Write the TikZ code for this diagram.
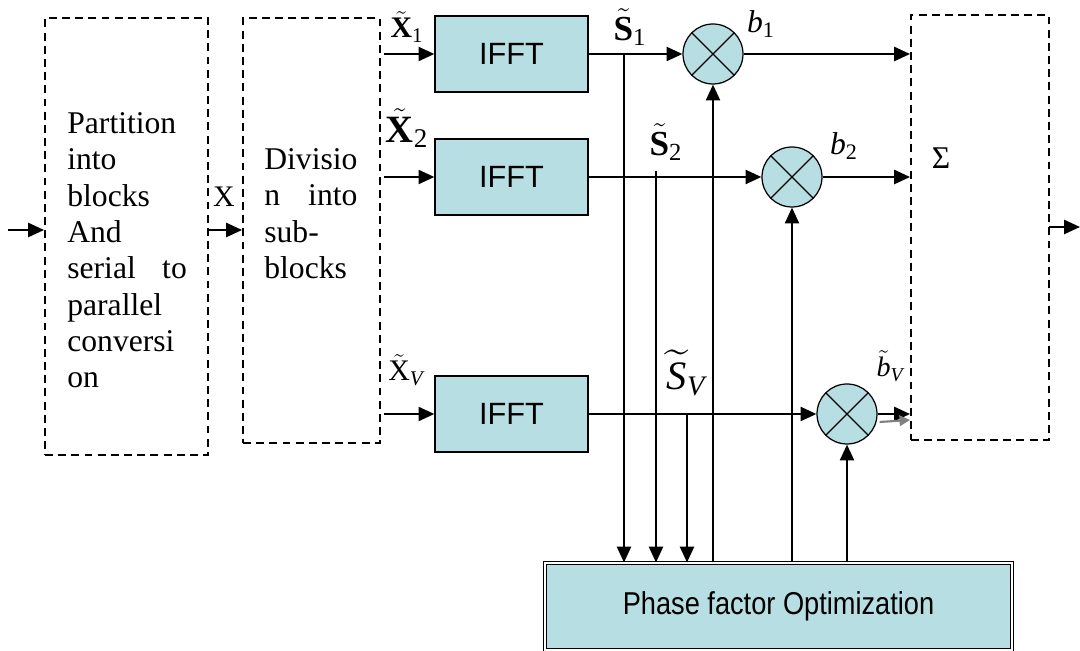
\documentclass[tikz,border=0pt]{standalone}
\usepackage{fontspec}
\setmainfont{Liberation Serif}
\setsansfont{Liberation Sans}
\usepackage{amsmath}
\usepackage{graphicx}
\usetikzlibrary{arrows.meta,calc}
\definecolor{blockfill}{RGB}{183,222,226}
\tikzset{
  dashbox/.style={draw, dash pattern=on 4.5pt off 3pt, line width=1.1pt, inner sep=0pt},
  ifftbox/.style={draw, fill=blockfill, line width=0.8pt, minimum width=3.06cm, minimum height=1.52cm,
    font=\sffamily\fontsize{17.5}{20}\selectfont},
  mult/.style={circle, draw, fill=blockfill, minimum size=1.2cm, inner sep=0pt, line width=0.7pt,
    path picture={\draw[line width=0.7pt] (path picture bounding box.south west) -- (path picture bounding box.north east)
      (path picture bounding box.north west) -- (path picture bounding box.south east);}},
  sig/.style={-{Triangle[length=9pt,width=8pt]}, line width=1.2pt},
  lbl/.style={inner sep=0pt},
  blocktxt/.style={anchor=north west, inner sep=0pt, align=left, font=\fontsize{18}{20.7}\selectfont},
}
\begin{document}
\begin{tikzpicture}[x=0.02cm, y=-0.02cm]
  \useasboundingbox (0,0) rectangle (1080,651);
  % serial to parallel and sub-block division
  \node[dashbox, minimum width=3.26cm, minimum height=8.74cm] (part) at (126.5,236.5) {};
  \node[dashbox, minimum width=2.74cm, minimum height=8.5cm] (divi) at (311.5,230.5) {};
  \node[blocktxt, text width=68pt] (parttxt) at (67,112) {Partition\\ into\\ blocks\\ And\\
    \makebox[68pt][l]{serial\hfill to}\\ parallel\\ conversi\\ on};
  \node[blocktxt, text width=54pt] (divitxt) at (264,148) {Divisio\\ \makebox[53pt][l]{n\hfill into}\\ sub-\\ blocks};
  % IFFT blocks
  \node[ifftbox] (f1) at (511.5,54) {IFFT};
  \node[ifftbox] (f2) at (511.5,177) {IFFT};
  \node[ifftbox] (fv) at (511.5,414) {IFFT};
  % multipliers
  \node[mult] (m1) at (713,54) {};
  \node[mult] (m2) at (792,177) {};
  \node[mult] (mv) at (847,414) {};
  % summation
  \node[dashbox, minimum width=2.76cm, minimum height=8.5cm] (sum) at (980,227.5) {};
  \node[lbl, font=\fontsize{18}{18}\selectfont] (sigma) at (941,158) {Σ};
  % phase factor optimization
  \node[draw, double, double distance=1pt, line width=0.6pt, fill=blockfill, minimum width=9.34cm,
    minimum height=1.74cm, font=\sffamily\fontsize{18}{20}\selectfont] (opt) at (778.5,606.5)
    {\scalebox{0.86}[1]{Phase factor Optimization}};

  % input and X
  \coordinate (in) at (8,230);
  \draw[sig] (in) -- (in -| part.west);
  \draw[sig] (in -| part.east) -- (in -| divi.west);
  \node[lbl, font=\fontsize{17}{17}\selectfont] (xlab) at (224,197) {X};
  % sub-blocks into IFFT
  \foreach \f in {f1,f2,fv}
    \draw[sig] ($(divi.east |- \f.west)+(3,0)$) -- (\f.west);
  \draw[sig] (f1.east) -- (m1.west);
  \draw[sig] (f2.east) -- (m2.west);
  \draw[sig] (fv.east) -- (mv.west);
  % to summation
  \draw[sig] (m1.east) -- (m1 -| sum.west);
  \draw[sig] (m2.east) -- (m2 -| sum.west);
  \draw[sig] (mv.east) -- (mv -| sum.west);
  \draw[-{Triangle[length=6pt,width=6pt]}, gray, line width=1.2pt] ($(mv.east)+(2,8)$) -- ($(mv -| sum.west)+(0,6)$);
  \coordinate (out) at (1049,227);
  \draw[sig] (out) -- (1080,227);
  % taps down to optimization
  \coordinate (t1) at (624,54);
  \coordinate (t2) at (656,171);
  \coordinate (tv) at (687,414);
  \foreach \t in {t1,t2,tv}
    \draw[sig] (\t) -- (\t |- opt.north);
  % phase factors back up
  \foreach \m in {m1,m2,mv}
    \draw[sig] (\m |- opt.north) -- (\m.south);

  % signal labels
  \node[lbl, font=\fontsize{17}{17}\selectfont] (x1lab) at (407,27) {$\tilde{\mathbf{X}}_{\mathrm{1}}$};
  \node[lbl, font=\fontsize{22}{22}\selectfont] (x2lab) at (407,128) {$\tilde{\mathbf{X}}_{\mathrm{2}}$};
  \node[lbl, font=\fontsize{17}{17}\selectfont] (xvlab) at (406,370) {$\tilde{\mathrm{X}}_{\mathit{V}}$};
  \node[lbl, font=\fontsize{20}{20}\selectfont] (s1lab) at (630,27) {$\tilde{\mathbf{S}}_{\mathrm{1}}$};
  \node[lbl, font=\fontsize{20}{20}\selectfont] (s2lab) at (666,142) {$\tilde{\mathbf{S}}_{\mathrm{2}}$};
  \node[lbl, font=\fontsize{23}{23}\selectfont] (svlab) at (686,373) {$\widetilde{\mathit{S}}_{\mathit{V}}$};
  \node[lbl, font=\fontsize{18}{18}\selectfont] (b1lab) at (761,24) {$\mathit{b}_{\mathrm{1}}$};
  \node[lbl, font=\fontsize{18}{18}\selectfont] (b2lab) at (844,146) {$\mathit{b}_{\mathrm{2}}$};
  \node[lbl, font=\fontsize{16}{16}\selectfont] (bvlab) at (890,366) {$\tilde{\mathit{b}}_{\mathit{V}}$};
\end{tikzpicture}
\end{document}
